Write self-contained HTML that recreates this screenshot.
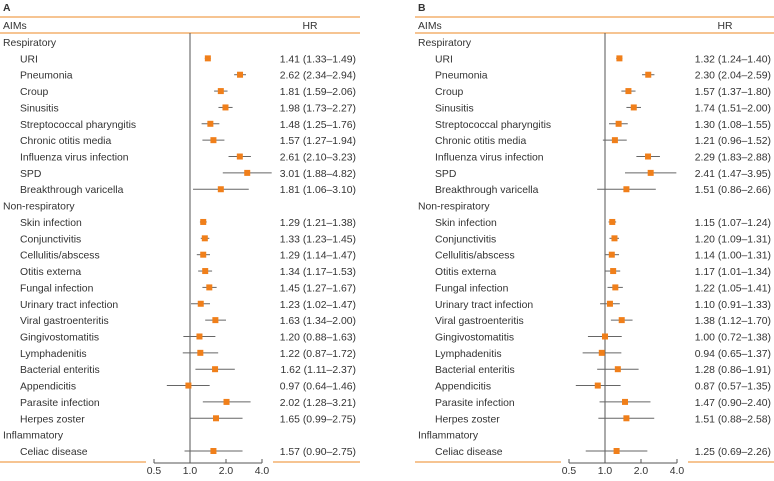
<!DOCTYPE html>
<html><head><meta charset="utf-8">
<style>
body{margin:0;background:#fff;width:774px;height:476px;overflow:hidden;font-family:"Liberation Sans",sans-serif;}
svg text{font-family:"Liberation Sans",sans-serif;fill:#333;font-size:10.4px;}
</style></head>
<body>
<svg id="chart" width="774" height="476" xmlns="http://www.w3.org/2000/svg"></svg>
<script>
const labels = ["Respiratory","URI","Pneumonia","Croup","Sinusitis","Streptococcal pharyngitis","Chronic otitis media","Influenza virus infection","SPD","Breakthrough varicella","Non-respiratory","Skin infection","Conjunctivitis","Cellulitis/abscess","Otitis externa","Fungal infection","Urinary tract infection","Viral gastroenteritis","Gingivostomatitis","Lymphadenitis","Bacterial enteritis","Appendicitis","Parasite infection","Herpes zoster","Inflammatory","Celiac disease"];
const isHeader = [1,0,0,0,0,0,0,0,0,0,1,0,0,0,0,0,0,0,0,0,0,0,0,0,1,0];
const hrA = [null,1.41,2.62,1.81,1.98,1.48,1.57,2.61,3.01,1.81,null,1.29,1.33,1.29,1.34,1.45,1.23,1.63,1.20,1.22,1.62,0.97,2.02,1.65,null,1.57];
const loA = [null,1.33,2.34,1.59,1.73,1.25,1.27,2.10,1.88,1.06,null,1.21,1.23,1.14,1.17,1.27,1.02,1.34,0.88,0.87,1.11,0.64,1.28,0.99,null,0.90];
const hiA = [null,1.49,2.94,2.06,2.27,1.76,1.94,3.23,4.82,3.10,null,1.38,1.45,1.47,1.53,1.67,1.47,2.00,1.63,1.72,2.37,1.46,3.21,2.75,null,2.75];
const hrB = [null,1.32,2.30,1.57,1.74,1.30,1.21,2.29,2.41,1.51,null,1.15,1.20,1.14,1.17,1.22,1.10,1.38,1.00,0.94,1.28,0.87,1.47,1.51,null,1.25];
const loB = [null,1.24,2.04,1.37,1.51,1.08,0.96,1.83,1.47,0.86,null,1.07,1.09,1.00,1.01,1.05,0.91,1.12,0.72,0.65,0.86,0.57,0.90,0.88,null,0.69];
const hiB = [null,1.40,2.59,1.80,2.00,1.55,1.52,2.88,3.95,2.66,null,1.24,1.31,1.31,1.34,1.41,1.33,1.70,1.38,1.37,1.91,1.35,2.40,2.58,null,2.26];
const ticks = [0.5,1.0,2.0,4.0];
const tickLabels = ["0.5","1.0","2.0","4.0"];

const svg = document.getElementById('chart');
const NS = "http://www.w3.org/2000/svg";
function mk(tag, attrs, parent){const e=document.createElementNS(NS,tag);for(const k in attrs)e.setAttribute(k,attrs[k]);(parent||svg).appendChild(e);return e;}
function fmt(v){return v.toFixed(2);}

function panel(ox, letter, hr, lo, hi){
  const g = mk('g',{});
  
  
  const xs = v => ox + 190 + Math.log2(v)*36;
  const ys = i => 42 + i*16.36;
  const right = ox + 360;
  const t = mk('text',{x:ox+3,y:11,'font-weight':'bold','font-size':'12'},g); t.textContent=letter;
   
  mk('line',{x1:ox,x2:right,y1:17,y2:17,stroke:'#f0a050','stroke-width':1.2},g);
  mk('line',{x1:ox,x2:right,y1:33,y2:33,stroke:'#f0a050','stroke-width':1.2},g);
  const h1 = mk('text',{x:ox+3,y:29},g); h1.textContent='AIMs';
   
  const h2 = mk('text',{x:ox+310,y:29,'text-anchor':'middle'},g); h2.textContent='HR';
   
  const ref = mk('line',{x1:xs(1),x2:xs(1),y1:33,y2:463,stroke:'#555','stroke-width':1},g);
   
  mk('line',{x1:xs(0.5),x2:xs(4),y1:463,y2:463,stroke:'#555','stroke-width':1},g);
  ticks.forEach((v,i)=>{
    mk('line',{x1:xs(v),x2:xs(v),y1:459,y2:463,stroke:'#555'},g);
    const tl = mk('text',{x:xs(v),y:474,'text-anchor':'middle','font-size':'9.5'},g); tl.textContent=tickLabels[i];
     
  });
  mk('line',{x1:ox,x2:ox+146,y1:462,y2:462,stroke:'#f0a050','stroke-width':1.2},g);
  mk('line',{x1:ox+273,x2:right,y1:462,y2:462,stroke:'#f0a050','stroke-width':1.2},g);
  labels.forEach((lab,i)=>{
    const y = ys(i);
    const tx = mk('text',{x:ox+(isHeader[i]?3:20),y:y+4},g); tx.textContent=lab;
    
    
    if(hr[i]!==null){
      const ci = mk('line',{x1:xs(lo[i]),x2:xs(hi[i]),y1:y,y2:y,stroke:'#666','stroke-width':1},g);
       
      const pt = mk('rect',{x:xs(hr[i])-3,y:y-3,width:6,height:6,fill:'#f07f1a'},g);
       
      const v = mk('text',{x:ox+356,y:y+4,'text-anchor':'end'},g);
      v.textContent = fmt(hr[i])+' ('+fmt(lo[i])+'\u2013'+fmt(hi[i])+')';
       
    }
  });
}
panel(0,'A',hrA,loA,hiA);
panel(415,'B',hrB,loB,hiB);
</script>
</body></html>
